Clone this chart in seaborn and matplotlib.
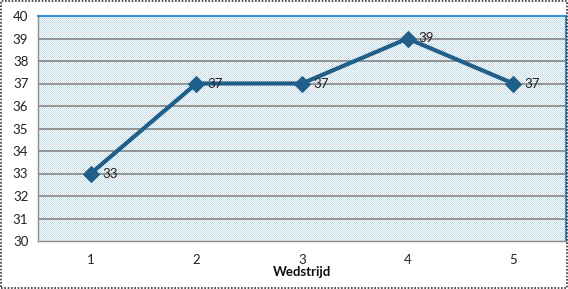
import numpy as np
import pandas as pd
import matplotlib
matplotlib.use("Agg")
import matplotlib.pyplot as plt
import seaborn as sns
from matplotlib.patches import Rectangle

categories = ["1", "2", "3", "4", "5"]
values = [33, 37, 37, 39, 37]
x_title = "Wedstrijd"
y_ticks = list(range(30, 41))

sns.set_style("white")
plt.rcParams['font.family'] = ['Lato', 'DejaVu Sans']

W, H = 568, 289
fig = plt.figure(figsize=(W / 100, H / 100), dpi=100)
L, R, T, B = 38, 566, 16, 241
ax = fig.add_axes([L / W, 1 - B / H, (R - L) / W, (B - T) / H])

df = pd.DataFrame({"pos": np.arange(len(categories)), "val": values})

# dotted background pattern
ph, pw = B - T, R - L
pat = np.ones((ph, pw, 3))
yy, xx = np.mgrid[0:ph, 0:pw]
gray = (yy % 2 == 0) & (xx % 2 == 0)
blue = (yy % 2 == 1) & (xx % 2 == 1)
pat[gray] = np.array([0.80, 0.80, 0.82])
pat[blue] = np.array([0.70, 0.90, 0.97])
ax.imshow(pat, extent=[-0.5, len(categories) - 0.5, 30, 40], aspect='auto',
          interpolation='nearest', zorder=0)

for yv in y_ticks[1:-1]:
    ax.axhline(yv, color='#8c8c8c', lw=1.3, zorder=1)

sns.lineplot(data=df, x="pos", y="val", ax=ax, color='#215f8b', lw=3,
             marker='D', markersize=8, markeredgecolor='#215f8b', zorder=3)

for i, v in enumerate(values):
    ax.annotate(str(v), (i, v), xytext=(8, 0), textcoords='offset points',
                va='center', ha='left', fontsize=9.5, color='#222222', zorder=4)

ax.set_xlim(-0.5, len(categories) - 0.5)
ax.set_ylim(30, 40)
ax.set_yticks(y_ticks)
ax.set_yticklabels([str(t) for t in y_ticks], fontsize=9.5, color='#222222')
ax.set_xticks(np.arange(len(categories)))
ax.set_xticklabels(categories, fontsize=9.5, color='#222222')
ax.set_xticks(np.arange(len(categories) + 1) - 0.5, minor=True)
ax.tick_params(axis='x', which='major', length=0, pad=9)
ax.tick_params(axis='x', which='minor', length=3, color='#8c8c8c', direction='out')
ax.tick_params(axis='y', length=4, color='#8c8c8c', direction='out', pad=3)
ax.set_xlabel(x_title, fontsize=9.5, fontweight='bold', labelpad=0, color='#111111')
ax.set_ylabel("")

for s in ['left', 'bottom']:
    ax.spines[s].set_color('#8c8c8c')
    ax.spines[s].set_linewidth(1)
for s in ['top', 'right']:
    ax.spines[s].set_color('#3a8fd0')
    ax.spines[s].set_linewidth(1.5)

fig.patches.append(Rectangle((0.001, 0.002), 0.997, 0.995, transform=fig.transFigure,
                             fill=False, edgecolor='#333333', lw=1.2, linestyle=(0, (1, 1))))

fig.savefig("out.png", dpi=100)
